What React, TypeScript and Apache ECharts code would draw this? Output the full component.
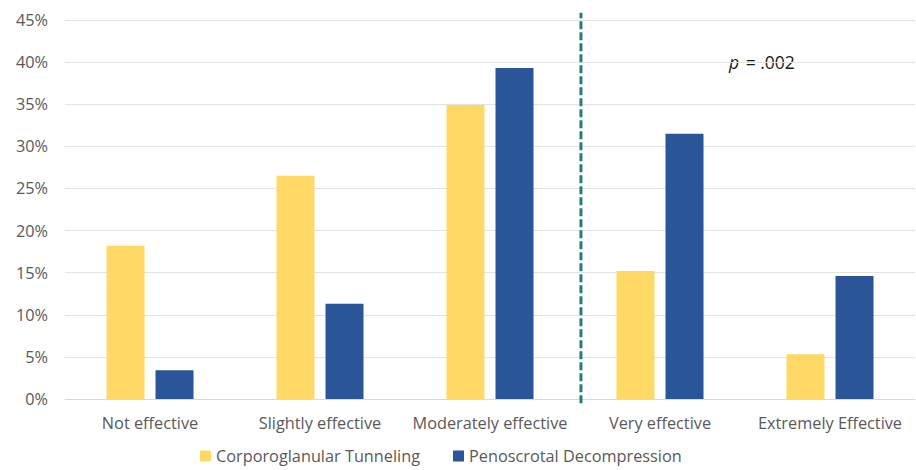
import React, { useEffect, useRef } from "react";
import * as echarts from "echarts";

const categories = ["Not effective", "Slightly effective", "Moderately effective", "Very effective", "Extremely Effective"];
const tunneling = [18.2, 26.5, 34.9, 15.2, 5.3];
const decompression = [3.4, 11.3, 39.3, 31.5, 14.6];
const seriesNames = ["Corporoglanular Tunneling", "Penoscrotal Decompression"];
const yTicks = { min: 0, max: 45, interval: 5 };
const dividerPos = 3.035; // position on a 0..5 category scale
const dividerRange = [-0.5, 45.85];

export default function App() {
  const ref = useRef<HTMLDivElement>(null);
  useEffect(() => {
    const chart = echarts.init(ref.current!, null, { renderer: "svg" });
    const font = "'Open Sans', 'Noto Sans', sans-serif";
    chart.setOption({
      animation: false,
      textStyle: { fontFamily: font },
      grid: { left: 65, right: 1, top: 20, bottom: 71, containLabel: false },
      legend: {
        bottom: 1,
        left: 195,
        itemWidth: 11,
        itemHeight: 11,
        itemGap: 33,
        icon: "rect",
        textStyle: { fontSize: 16.3, color: "#595959", fontFamily: font },
        data: seriesNames,
      },
      xAxis: [
        {
          type: "category",
          data: categories,
          axisTick: { show: false },
          axisLine: { lineStyle: { color: "#d9d9d9", width: 1 } },
          axisLabel: { color: "#595959", fontSize: 16.3, margin: 16, interval: 0, fontFamily: font },
        },
        { type: "value", min: 0, max: 5, show: false },
      ],
      yAxis: {
        type: "value",
        min: yTicks.min,
        max: yTicks.max,
        interval: yTicks.interval,
        axisLine: { show: false },
        axisTick: { show: false },
        splitLine: { lineStyle: { color: "#e3e3e3", width: 1 } },
        axisLabel: { color: "#595959", fontSize: 16.3, margin: 17, formatter: "{value}%", fontFamily: font },
      },
      series: [
        {
          name: seriesNames[0],
          type: "bar",
          data: tunneling,
          barWidth: 38,
          barGap: "29%",
          itemStyle: { color: "#FFD966" },
        },
        {
          name: seriesNames[1],
          type: "bar",
          data: decompression,
          barWidth: 38,
          itemStyle: { color: "#2A5699" },
        },
        {
          type: "line",
          xAxisIndex: 1,
          clip: false,
          symbol: "none",
          silent: true,
          data: [
            [dividerPos, dividerRange[0]],
            [dividerPos, dividerRange[1]],
          ],
          lineStyle: { color: "#237F7A", width: 3, type: [8, 3] },
        },
      ],
      graphic: [
        {
          type: "text",
          left: 729,
          top: 53,
          style: {
            text: "{i|p} = .002",
            fontSize: 17.5,
            fill: "#1a1a1a",
            fontFamily: font,
            rich: { i: { fontStyle: "italic", fontSize: 17.5, fill: "#1a1a1a", fontFamily: font, padding: [0, 2, 0, 0] } },
          },
        },
      ],
    });
    return () => chart.dispose();
  }, []);
  return <div ref={ref} style={{ width: 916, height: 470, position: "absolute", left: 0, top: 0 }} />;
}
